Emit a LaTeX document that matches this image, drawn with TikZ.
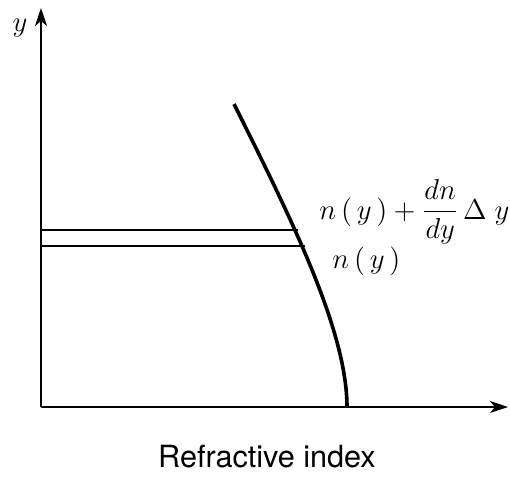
\documentclass[tikz,border=0pt]{standalone}
\usepackage{fontspec}
\newfontfamily\labelfont{TeX Gyre Heros}
\usetikzlibrary{arrows.meta}
\begin{document}
\begin{tikzpicture}[x=0.5pt,y=-0.5pt,
  axis/.style={line width=0.8pt,-{Stealth[length=9pt,width=6pt,inset=2.5pt]}},
  profile/.style={line width=1.8pt},
  layer/.style={line width=0.8pt},
  mathlbl/.style={font=\fontsize{13.8}{16}\selectfont,inner sep=0pt}]
\useasboundingbox (0,0) rectangle (510,478);
\coordinate (O) at (41,407);
\coordinate (ytip) at (41,8);
\coordinate (xtip) at (508,407);
\draw[axis] (O) -- (ytip);
\draw[axis] (O) -- (xtip);
\node[mathlbl] (ylab) at (20,28) {$y$};
\coordinate (ctop) at (234,104);
\coordinate (cbot) at (347,407);
\draw[profile] (ctop) .. controls (290,216) and (347,330) .. (cbot);
\coordinate (a1) at (41,230);
\coordinate (b1) at (297.5,230);
\coordinate (a2) at (41,246);
\coordinate (b2) at (304.5,246);
\draw[layer] (a1) -- (b1);
\draw[layer] (a2) -- (b2);
\node[mathlbl,anchor=base west] (top) at (319,219) {$\displaystyle n\,(\,y\,)+\frac{dn}{dy}\,\Delta\;y$};
\node[mathlbl,anchor=base west] (bot) at (332,268) {$n\,(\,y\,)$};
\node[font=\labelfont\fontsize{15.3}{18}\selectfont,anchor=base] (xlab) at (267,467) {Refractive index};
\end{tikzpicture}
\end{document}
